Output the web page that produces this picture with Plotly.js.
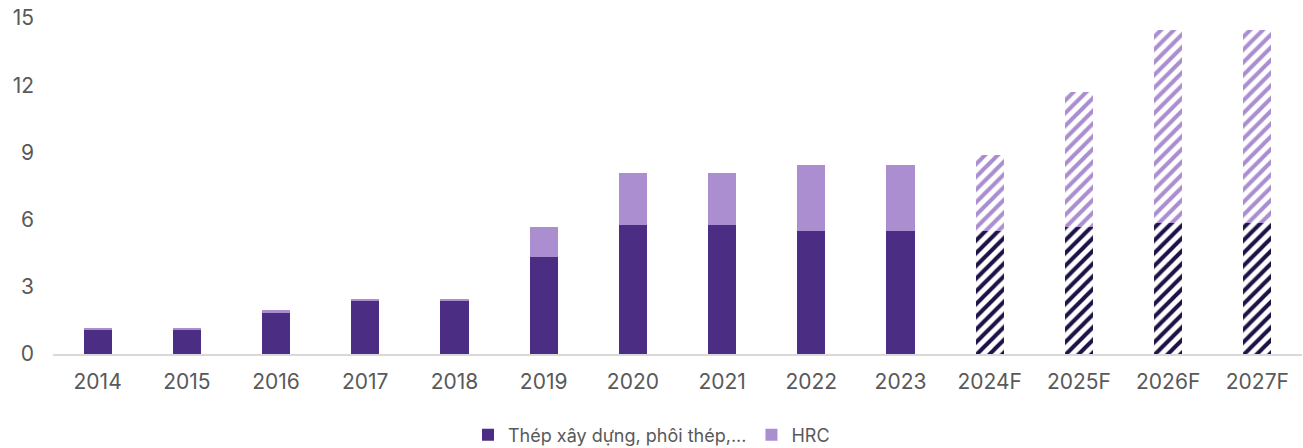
<!DOCTYPE html>
<html>
<head>
<meta charset="utf-8">
<script src="https://cdn.plot.ly/plotly-3.0.1.min.js"></script>
<style>html,body{margin:0;padding:0;background:#fff;}#chart{width:1303px;height:448px;}</style>
</head>
<body>
<div id="chart"></div>
<script>
var years = ["2014","2015","2016","2017","2018","2019","2020","2021","2022","2023","2024F","2025F","2026F","2027F"];
var steelValues = [1.05,1.05,1.85,2.35,2.35,4.35,5.77,5.77,5.47,5.47,5.47,5.65,5.85,5.85];
var hrcValues = [0.13,0.13,0.13,0.12,0.12,1.33,2.31,2.31,2.99,2.99,3.43,6.05,8.63,8.63];

var steelName = "Thép xây dựng, phôi thép,...";
var hrcName = "HRC";
var steelColor = "#4B2E83";
var hrcColor = "#AB8ECF";
var steelStripe = "#1F1247";

function pick(arr, fc){
  var out = [];
  for (var i = 0; i < years.length; i++) {
    var f = years[i].indexOf("F") >= 0;
    if (f === fc) out.push(arr[i]);
  }
  return out;
}

function solid(values, name, color){
  return {type: "bar", name: name, legendgroup: name, x: pick(years, false), y: pick(values, false),
    marker: {color: color, line: {width: 0}}};
}
function hatched(values, name, stripe){
  return {type: "bar", name: name, legendgroup: name, showlegend: false,
    x: pick(years, true), y: pick(values, true),
    marker: {color: "#ffffff", line: {width: 0},
      pattern: {shape: "/", fgcolor: stripe, bgcolor: "#ffffff", size: 9, solidity: 0.45, fillmode: "replace"}}};
}

var traces = [
  solid(steelValues, steelName, steelColor),
  solid(hrcValues, hrcName, hrcColor),
  hatched(steelValues, steelName, steelStripe),
  hatched(hrcValues, hrcName, hrcColor)
];

var font = {family: "Inter, 'Open Sans', sans-serif", size: 21, color: "#595959"};
var legendFont = {family: "Inter, 'Open Sans', sans-serif", size: 18, color: "#595959"};
var layout = {
  width: 1303, height: 448,
  margin: {l: 53, r: 1, t: 18, b: 94, autoexpand: false},
  barmode: "stack", bargap: 0.685,
  paper_bgcolor: "#fff", plot_bgcolor: "#fff",
  font: font,
  showlegend: true,
  legend: {orientation: "h", x: 0.5, xanchor: "center", xref: "container", y: 0.029, yanchor: "middle", yref: "container", font: legendFont, traceorder: "normal", itemwidth: 30},
  xaxis: {type: "category", showline: true, linecolor: "#d9d9d9", linewidth: 2, ticks: "", showgrid: false, tickfont: font, zeroline: false, ticklabelstandoff: 8},
  yaxis: {range: [0, 15], tickvals: [0,3,6,9,12,15], showgrid: false, zeroline: false, showline: false, ticks: "", tickfont: font, ticklabelstandoff: 18}
};
Plotly.newPlot("chart", traces, layout, {displayModeBar: false, staticPlot: true});
</script>
</body>
</html>
